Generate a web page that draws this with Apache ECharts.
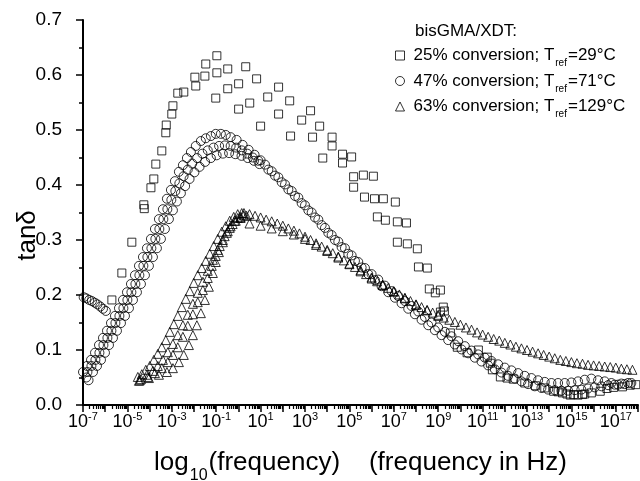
<!DOCTYPE html>
<html><head><meta charset="utf-8">
<script src="https://cdn.jsdelivr.net/npm/echarts@6/dist/echarts.min.js"></script>
<style>html,body{margin:0;padding:0;background:#fff}#c{width:640px;height:481px}</style>
</head><body><div id="c"></div>
<script>
// ---------- DATA (x = log10(frequency / Hz), y = tan delta) ----------
const seriesNames = ['25% conversion; Tref=29°C', '47% conversion; Tref=71°C', '63% conversion; Tref=129°C'];
const legendTitle = 'bisGMA/XDT:';
const xTickExponents = [-7, -5, -3, -1, 1, 3, 5, 7, 9, 11, 13, 15, 17];
const yTicks = [0, 0.1, 0.2, 0.3, 0.4, 0.5, 0.6, 0.7];

// 25% conversion (squares)
const sq25Peak = [[-5.70,0.191],[-5.25,0.240],[-4.80,0.296],[-4.26,0.364],[-4.24,0.357],[-3.94,0.395],[-3.81,0.411],[-3.72,0.438],[-3.45,0.462],[-3.27,0.495],[-3.25,0.509],[-3.00,0.529],[-2.95,0.544],[-2.73,0.567],[-2.46,0.569],[-1.96,0.596],[-1.92,0.580],[-1.51,0.598],[-1.47,0.620],[-0.97,0.635],[-0.97,0.604],[-1.02,0.558],[-0.48,0.611],[-0.48,0.575],[0.01,0.584],[0.01,0.538],[0.33,0.615],[0.51,0.549],[0.82,0.593],[1.00,0.507],[1.32,0.560],[1.81,0.578],[1.81,0.529],[2.31,0.553],[2.35,0.489],[2.85,0.518],[3.25,0.535],[3.34,0.487],[3.66,0.507],[3.80,0.449]];
const sq25Fall = [[4.22,0.487],[4.22,0.471],[4.69,0.456],[4.69,0.440],[5.10,0.451],[5.19,0.415],[5.63,0.418],[6.08,0.416],[5.19,0.396],[5.68,0.378],[6.13,0.375],[6.53,0.375],[7.07,0.369],[6.26,0.342],[6.62,0.336],[7.16,0.333],[7.57,0.331],[7.16,0.296],[7.61,0.293],[8.06,0.284],[8.11,0.251],[8.51,0.249],[8.60,0.211],[9.10,0.209],[8.87,0.204],[9.23,0.178],[9.28,0.171],[9.10,0.169]];
const sq25Tail = [[9.55,0.131],[9.86,0.105],[10.30,0.095],[10.81,0.100],[11.21,0.087],[11.35,0.076],[11.44,0.064],[11.80,0.051],[12.10,0.049],[12.38,0.047],[12.90,0.040],[13.38,0.035],[13.80,0.031],[14.20,0.025],[14.40,0.024],[14.60,0.022],[14.80,0.020],[14.95,0.018],[15.10,0.019],[15.30,0.018],[15.50,0.019],[15.60,0.020],[15.90,0.022],[16.30,0.025],[16.60,0.030],[16.90,0.032],[17.30,0.033],[17.65,0.036],[17.90,0.037]];

// 47% conversion (circles)
const ci47Left = [[-6.97,0.196],[-6.85,0.194],[-6.72,0.191],[-6.60,0.189],[-6.47,0.186],[-6.35,0.183],[-6.22,0.179],[-6.10,0.175],[-5.97,0.171]];
const ci47A = [[-7.00,0.060],[-6.82,0.071],[-6.64,0.082],[-6.46,0.095],[-6.28,0.109],[-6.10,0.122],[-5.92,0.135],[-5.74,0.149],[-5.56,0.162],[-5.38,0.176],[-5.20,0.191],[-5.02,0.205],[-4.84,0.220],[-4.66,0.236],[-4.48,0.253],[-4.30,0.269],[-4.12,0.285],[-3.94,0.302],[-3.76,0.320],[-3.58,0.338],[-3.40,0.356],[-3.22,0.375],[-3.04,0.391],[-2.86,0.407],[-2.68,0.424],[-2.50,0.436],[-2.32,0.449],[-2.14,0.460],[-1.92,0.471],[-1.69,0.480],[-1.47,0.485],[-1.24,0.489],[-1.02,0.493],[-0.79,0.493],[-0.57,0.491],[-0.35,0.487],[-0.08,0.482],[0.19,0.473],[0.46,0.464],[0.73,0.455],[1.00,0.445]];
const ci47B = [[-6.85,0.050],[-6.80,0.060],[-6.62,0.071],[-6.44,0.082],[-6.26,0.095],[-6.08,0.109],[-5.90,0.122],[-5.72,0.135],[-5.54,0.149],[-5.36,0.162],[-5.18,0.176],[-5.00,0.191],[-4.82,0.205],[-4.64,0.220],[-4.46,0.236],[-4.28,0.253],[-4.10,0.269],[-3.92,0.285],[-3.74,0.302],[-3.56,0.320],[-3.38,0.338],[-3.20,0.356],[-3.02,0.373],[-2.84,0.389],[-2.66,0.403],[-2.47,0.416],[-2.28,0.428],[-2.08,0.439],[-1.86,0.449],[-1.62,0.457],[-1.38,0.463],[-1.12,0.468],[-0.87,0.471],[-0.61,0.472],[-0.35,0.471],[-0.10,0.468],[0.15,0.463],[0.40,0.457],[0.65,0.450],[0.90,0.444]];
const ci47C = [[-6.75,0.045],[-6.55,0.060],[-6.37,0.071],[-6.19,0.082],[-6.01,0.095],[-5.83,0.109],[-5.65,0.122],[-5.47,0.135],[-5.29,0.149],[-5.11,0.162],[-4.93,0.176],[-4.75,0.191],[-4.57,0.205],[-4.39,0.220],[-4.21,0.236],[-4.03,0.253],[-3.85,0.269],[-3.67,0.285],[-3.49,0.302],[-3.31,0.320],[-3.13,0.338],[-2.95,0.354],[-2.77,0.370],[-2.59,0.385],[-2.40,0.398],[-2.20,0.411],[-1.98,0.423],[-1.75,0.433],[-1.50,0.442],[-1.24,0.449],[-0.98,0.454],[-0.70,0.457],[-0.42,0.458],[-0.14,0.456],[0.14,0.453],[0.42,0.449],[0.70,0.444],[0.95,0.438]];
const ci47FallA = [[1.2,0.437],[1.5,0.425],[1.8,0.414],[2.1,0.401],[2.4,0.389],[2.7,0.377],[3.0,0.363],[3.3,0.350],[3.6,0.337],[3.9,0.322],[4.2,0.309],[4.5,0.297],[4.8,0.285],[5.1,0.272],[5.4,0.260],[5.7,0.249],[6.0,0.238],[6.3,0.228],[6.6,0.217],[6.9,0.207],[7.2,0.198],[7.5,0.189],[7.8,0.180],[8.1,0.170],[8.4,0.160],[8.7,0.150],[9.0,0.141],[9.3,0.133],[9.6,0.125],[9.9,0.116],[10.2,0.107],[10.5,0.099],[10.8,0.092],[11.1,0.086],[11.4,0.080],[11.7,0.074],[12.0,0.068],[12.3,0.063],[12.6,0.058],[12.9,0.053],[13.2,0.049],[13.5,0.045],[13.8,0.042],[14.1,0.040],[14.4,0.040],[14.7,0.040],[15.0,0.041],[15.3,0.043],[15.6,0.046],[15.9,0.048],[16.2,0.045],[16.5,0.043],[16.8,0.040],[17.1,0.037],[17.4,0.038],[17.7,0.040]];
const ci47FallB = [[1.35,0.428],[1.65,0.417],[1.95,0.405],[2.25,0.392],[2.55,0.380],[2.85,0.367],[3.15,0.354],[3.45,0.341],[3.75,0.327],[4.05,0.313],[4.35,0.300],[4.65,0.287],[4.95,0.275],[5.25,0.262],[5.55,0.250],[5.85,0.238],[6.15,0.227],[6.45,0.216],[6.75,0.205],[7.05,0.195],[7.35,0.185],[7.65,0.175],[7.95,0.165],[8.25,0.155],[8.55,0.145],[8.85,0.136],[9.15,0.127],[9.45,0.118],[9.75,0.110],[10.05,0.101],[10.35,0.094],[10.65,0.086],[10.95,0.079],[11.25,0.072],[11.55,0.065],[11.85,0.059],[12.15,0.053],[12.45,0.048],[12.75,0.043],[13.05,0.038],[13.35,0.034],[13.65,0.031],[13.95,0.028],[14.25,0.027],[14.55,0.026],[14.85,0.026],[15.15,0.027],[15.45,0.028],[15.75,0.030],[16.05,0.032],[16.35,0.034],[16.65,0.036],[16.95,0.037],[17.25,0.039],[17.55,0.040]];

// 63% conversion (triangles)
const tri63A = [[-4.53,0.051],[-4.35,0.056],[-4.17,0.064],[-3.99,0.071],[-3.81,0.082],[-3.63,0.093],[-3.45,0.105],[-3.27,0.118],[-3.09,0.133],[-2.91,0.147],[-2.73,0.162],[-2.55,0.178],[-2.37,0.193],[-2.19,0.207],[-2.01,0.222],[-1.83,0.236],[-1.65,0.249],[-1.47,0.262],[-1.29,0.275],[-1.11,0.289],[-0.93,0.302],[-0.75,0.315],[-0.57,0.325],[-0.39,0.335],[-0.21,0.342],[-0.03,0.347],[0.15,0.349]];
const tri63B = [[-4.39,0.047],[-4.12,0.055],[-3.85,0.062],[-3.63,0.071],[-3.40,0.082],[-3.18,0.096],[-2.95,0.111],[-2.73,0.127],[-2.50,0.145],[-2.28,0.164],[-2.05,0.184],[-1.83,0.204],[-1.60,0.224],[-1.38,0.244],[-1.15,0.264],[-0.93,0.282],[-0.70,0.300],[-0.48,0.316],[-0.26,0.329],[-0.03,0.340],[0.24,0.345]];
const tri63C = [[-4.44,0.045],[-4.08,0.051],[-3.76,0.058],[-3.45,0.067],[-3.18,0.078],[-2.95,0.091],[-2.73,0.105],[-2.50,0.124],[-2.28,0.144],[-2.05,0.165],[-1.83,0.187],[-1.60,0.209],[-1.38,0.231],[-1.20,0.253],[-1.02,0.271],[-0.84,0.289],[-0.62,0.307],[-0.39,0.322],[-0.17,0.335],[0.10,0.342]];
const tri63D = [[-4.48,0.044],[-4.03,0.049],[-3.58,0.055],[-3.22,0.060],[-2.95,0.067],[-2.68,0.078],[-2.46,0.091],[-2.23,0.109],[-2.05,0.127],[-1.87,0.145],[-1.69,0.167],[-1.51,0.191],[-1.33,0.215],[-1.15,0.240],[-1.02,0.260],[-0.88,0.278],[-0.70,0.296],[-0.52,0.313],[-0.35,0.325],[-0.12,0.335],[0.10,0.340],[0.37,0.344]];
const tri63Fall = [[0.25,0.349],[0.5,0.347],[0.75,0.344],[1.0,0.341],[1.25,0.337],[1.5,0.334],[1.75,0.330],[2.0,0.326],[2.25,0.321],[2.5,0.317],[2.75,0.312],[3.0,0.306],[3.25,0.300],[3.5,0.294],[3.75,0.288],[4.0,0.282],[4.25,0.276],[4.5,0.270],[4.75,0.263],[5.0,0.257],[5.25,0.251],[5.5,0.245],[5.75,0.238],[6.0,0.232],[6.25,0.225],[6.5,0.219],[6.75,0.213],[7.0,0.207],[7.25,0.201],[7.5,0.195],[7.75,0.189],[8.0,0.183],[8.25,0.178],[8.5,0.173],[8.75,0.168],[9.0,0.164],[9.25,0.159],[9.5,0.155],[9.75,0.151],[10.0,0.146],[10.25,0.141],[10.5,0.137],[10.75,0.132],[11.0,0.128],[11.25,0.124],[11.5,0.120],[11.75,0.117],[12.0,0.113],[12.25,0.110],[12.5,0.106],[12.75,0.103],[13.0,0.100],[13.25,0.097],[13.5,0.094],[13.75,0.091],[14.0,0.088],[14.25,0.085],[14.5,0.082],[14.75,0.080],[15.0,0.078],[15.25,0.076],[15.5,0.075],[15.75,0.073],[16.0,0.072],[16.25,0.071],[16.5,0.070],[16.75,0.069],[17.0,0.068],[17.25,0.066],[17.5,0.065],[17.75,0.064]];
const tri63FallLow = [[0.5,0.330],[1.0,0.326],[1.5,0.321],[2.0,0.316],[2.5,0.310],[3.0,0.302],[3.5,0.291],[4.0,0.280],[4.5,0.268],[5.0,0.256],[5.5,0.243],[6.0,0.230],[6.5,0.218],[7.0,0.206],[7.5,0.194],[8.0,0.182],[8.5,0.172],[9.0,0.162]];

// ---------- CHART ----------
const F = '"Liberation Sans", Arial, Helvetica, sans-serif';
const minorX = [];
for (let n = -7; n < 18; n++) for (let k = 2; k <= 9; k++) minorX.push(n + Math.log10(k));

const hollow = {color: 'rgba(0,0,0,0)', borderColor: '#000', borderWidth: 1};
function sc(name, data, symbol, size) {
  return {type: 'scatter', name, data, symbol, symbolSize: size, xAxisIndex: 0, yAxisIndex: 0,
    itemStyle: hollow, emphasis: {disabled: true}, silent: true, animation: false, clip: false};
}
const GRID = {left: 83, right: 2, top: 20, bottom: 76, outerBoundsMode: 'none'};

const chart = echarts.init(document.getElementById('c'), null, {renderer: 'canvas'});
chart.setOption({
  backgroundColor: '#fff',
  animation: false,
  title: {text: legendTitle, left: 415, top: 23, padding: 0,
    textStyle: {fontSize: 17, fontWeight: 'normal', color: '#000', fontFamily: F}},
  legend: {
    orient: 'vertical', left: 395, top: 47, padding: 0, itemWidth: 9, itemHeight: 9, itemGap: 4,
    selectedMode: false,
    data: [{name: seriesNames[0], icon: 'rect'}, {name: seriesNames[1], icon: 'circle'}, {name: seriesNames[2], icon: 'triangle'}],
    itemStyle: hollow,
    formatter: function (name) { const p = name.split('ref'); return '{a|' + p[0] + '}{sub|ref}{a|' + p[1] + '}'; },
    textStyle: {padding: [0, 0, 0, 4], rich: {
      a: {fontSize: 17, fontFamily: F, color: '#000', lineHeight: 20},
      sub: {fontSize: 10, fontFamily: F, color: '#000', lineHeight: 10, verticalAlign: 'bottom', padding: [0, 1, -3, 1]}
    }}
  },
  grid: [Object.assign({}, GRID), Object.assign({}, GRID)],
  xAxis: [
    {type: 'value', gridIndex: 0, min: -7, max: 18, interval: 1,
      axisLine: {onZero: false, lineStyle: {color: '#000', width: 2}},
      axisTick: {length: 7, lineStyle: {color: '#000', width: 1.5}},
      splitLine: {show: false},
      axisLabel: {margin: 6, color: '#000',
        formatter: function (v) { return xTickExponents.indexOf(v) >= 0 ? '{b|10}{s|' + v + '}' : ''; },
        rich: {b: {fontSize: 18, fontFamily: F, color: '#000', lineHeight: 22},
               s: {fontSize: 11, fontFamily: F, color: '#000', lineHeight: 11, verticalAlign: 'top'}}},
      name: '{a|log}{s|10}{a|(frequency)    (frequency in Hz)}', nameLocation: 'middle', nameGap: 43,
      nameTextStyle: {rich: {a: {fontSize: 26, fontFamily: F, color: '#000', lineHeight: 30},
        s: {fontSize: 16, fontFamily: F, color: '#000', lineHeight: 16, verticalAlign: 'bottom', padding: [0, 1, -6, 1]}}}
    },
    {type: 'value', gridIndex: 1, min: -7, max: 18, interval: 1,
      axisLine: {show: false, onZero: false}, axisLabel: {show: false}, splitLine: {show: false},
      axisTick: {show: true, length: 4, customValues: minorX, lineStyle: {color: '#000', width: 1.2}}}
  ],
  yAxis: [
    {type: 'value', gridIndex: 0, min: 0, max: 0.7, interval: 0.1,
      axisLine: {show: true, onZero: false, lineStyle: {color: '#000', width: 2}},
      axisTick: {show: true, length: 7, lineStyle: {color: '#000', width: 1.5}},
      minorTick: {show: true, splitNumber: 2, length: 4, lineStyle: {color: '#000', width: 1.5}},
      splitLine: {show: false},
      axisLabel: {margin: 21, fontSize: 19, fontFamily: F, color: '#000',
        formatter: function (v) { return v.toFixed(1); }},
      name: 'tanδ', nameLocation: 'middle', nameGap: 42, nameMoveOverlap: false,
      nameTextStyle: {fontSize: 26, fontFamily: F, color: '#000', padding: [0, 46, 0, 0]}
    },
    {type: 'value', gridIndex: 1, min: 0, max: 0.7, show: false}
  ],
  series: [
    sc(seriesNames[0], sq25Peak, 'rect', 8),
    sc(seriesNames[0], sq25Fall, 'rect', 8),
    sc(seriesNames[0], sq25Tail, 'rect', 8),
    sc(seriesNames[1], ci47Left, 'circle', 9),
    sc(seriesNames[1], ci47A, 'circle', 9),
    sc(seriesNames[1], ci47B, 'circle', 9),
    sc(seriesNames[1], ci47C, 'circle', 9),
    sc(seriesNames[1], ci47FallA, 'circle', 9),
    sc(seriesNames[1], ci47FallB, 'circle', 9),
    sc(seriesNames[2], tri63A, 'triangle', 9),
    sc(seriesNames[2], tri63B, 'triangle', 9),
    sc(seriesNames[2], tri63C, 'triangle', 9),
    sc(seriesNames[2], tri63D, 'triangle', 9),
    sc(seriesNames[2], tri63Fall, 'triangle', 9),
    sc(seriesNames[2], tri63FallLow, 'triangle', 9)
  ]
});
</script></body></html>
